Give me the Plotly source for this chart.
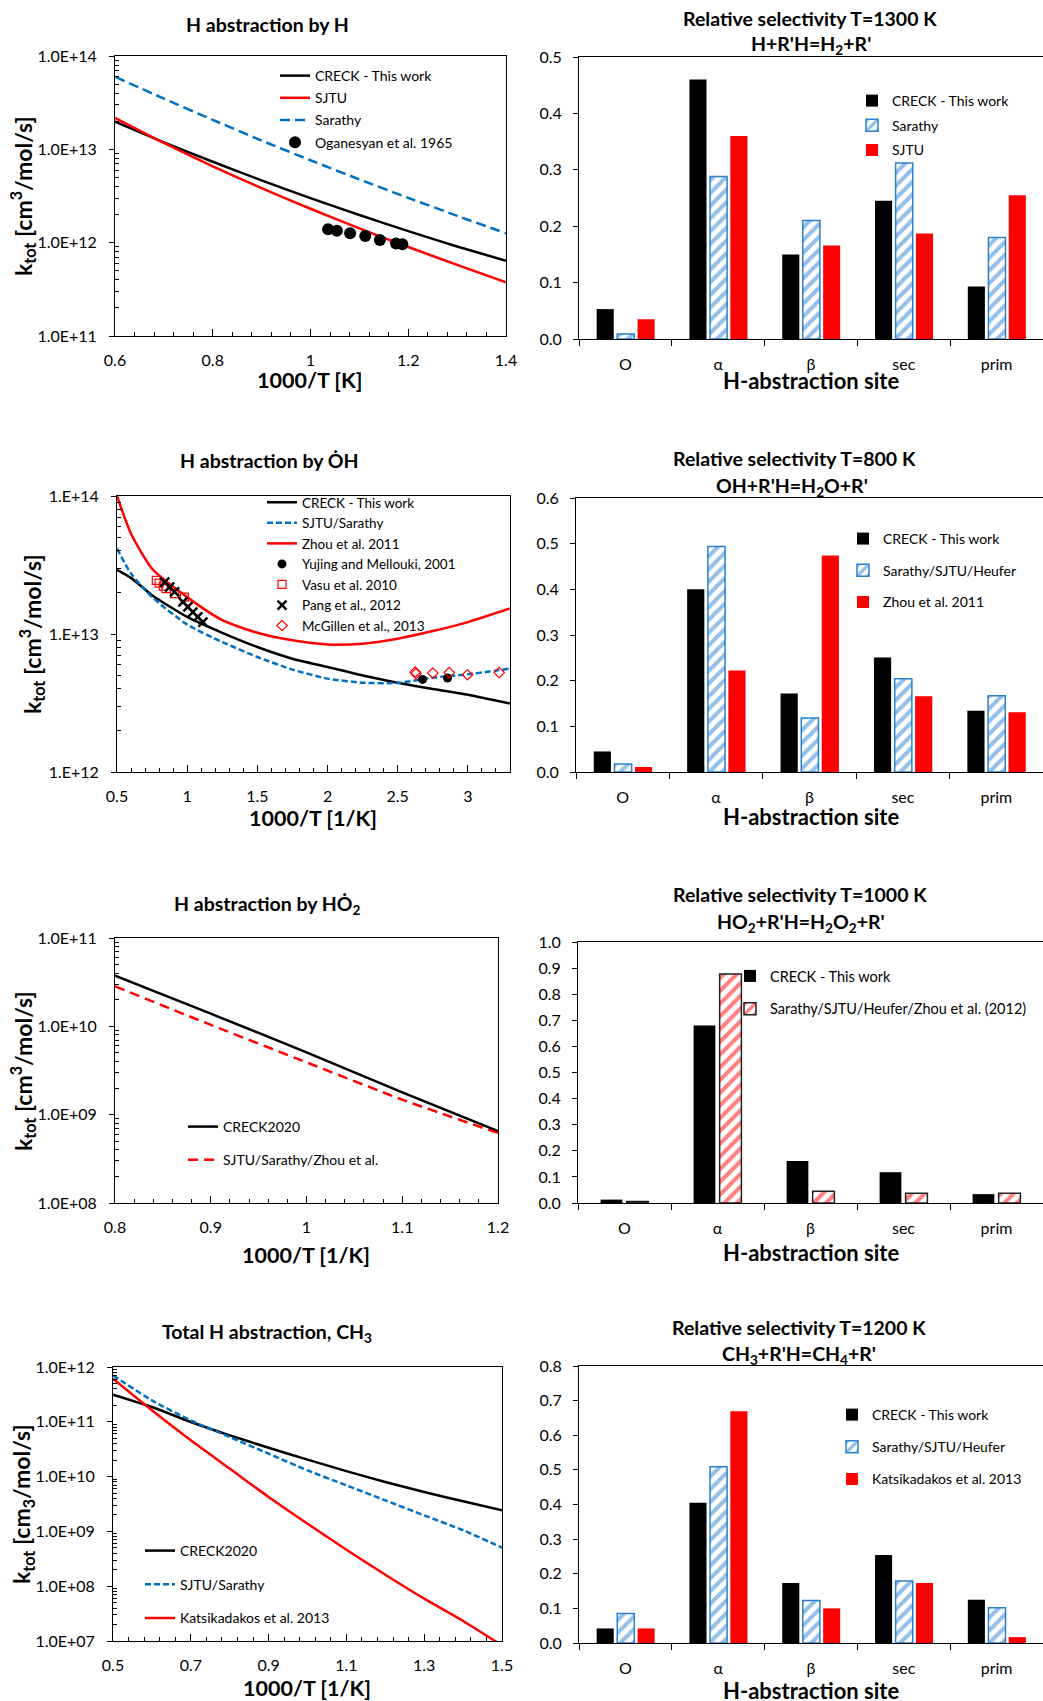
import plotly.graph_objects as go

FONT = "Lato"
W, H = 1043, 1701
BLUE_LINE = "#0070C0"
BLUE_HATCH = "#2A80D0"
RED = "#FF0000"

# ---------------- Panel 1 : H abstraction by H ----------------
p1_x = [0.6, 0.7, 0.8, 0.9, 1.0, 1.1, 1.2, 1.3, 1.4]
p1_creck = [1.98e13, 1.19e13, 7.36e12, 4.65e12, 3.0e12, 1.98e12, 1.33e12, 9.1e11, 6.4e11]
p1_sjtu = [2.18e13, 1.17e13, 6.58e12, 3.83e12, 2.31e12, 1.42e12, 8.98e11, 5.79e11, 3.76e11]
p1_sarathy = [6.0e13, 3.49e13, 2.07e13, 1.24e13, 7.64e12, 4.76e12, 3.02e12, 1.94e12, 1.26e12]
p1_oga_x = [1.036, 1.054, 1.081, 1.112, 1.142, 1.175, 1.188]
p1_oga_k = [1.39e12, 1.34e12, 1.26e12, 1.18e12, 1.07e12, 0.98e12, 0.96e12]

# ---------------- Panel 3 : H abstraction by OH ----------------
p3_x = [0.5, 0.6, 0.75, 1.0, 1.25, 1.5, 1.75, 2.0, 2.25, 2.5, 2.75, 3.0, 3.3]
p3_creck = [2.92e13, 2.55e13, 1.91e13, 1.33e13, 1.02e13, 8.05e12, 6.62e12, 5.77e12, 5.01e12, 4.44e12, 3.99e12, 3.63e12, 3.13e12]
p3_sjtu = [4.15e13, 2.74e13, 1.85e13, 1.17e13, 8.75e12, 6.81e12, 5.52e12, 4.75e12, 4.44e12, 4.42e12, 4.83e12, 5.1e12, 5.61e12]
p3_zhou = [1.0e14, 5.33e13, 2.97e13, 1.85e13, 1.26e13, 1.02e13, 9.0e12, 8.41e12, 8.51e12, 9.25e12, 1.05e13, 1.22e13, 1.53e13]
p3_yujing_x = [2.677, 2.855]
p3_yujing_k = [4.69e12, 4.8e12]
p3_vasu_x = [0.78, 0.80, 0.83, 0.85, 0.91, 0.98]
p3_vasu_k = [2.45e13, 2.34e13, 2.22e13, 2.13e13, 1.96e13, 1.85e13]
p3_pang_x = [0.84, 0.875, 0.91, 0.97, 1.005, 1.04, 1.076, 1.112]
p3_pang_k = [2.38e13, 2.19e13, 2.02e13, 1.71e13, 1.57e13, 1.44e13, 1.33e13, 1.22e13]
p3_mcg_x = [2.625, 2.63, 2.75, 2.867, 2.997, 3.223]
p3_mcg_k = [5.3e12, 5.16e12, 5.21e12, 5.25e12, 5.07e12, 5.25e12]

# ---------------- Panel 5 : H abstraction by HO2 ----------------
p5_x = [0.8, 0.9, 1.0, 1.1, 1.2]
p5_creck = [3.75e10, 1.39e10, 5.08e9, 1.79e9, 6.5e8]
p5_sjtu = [2.84e10, 1.04e10, 3.91e9, 1.48e9, 6.2e8]

# ---------------- Panel 7 : Total H abstraction, CH3 ----------------
p7_x = [0.5, 0.6, 0.7, 0.8, 0.9, 1.0, 1.1, 1.2, 1.3, 1.4, 1.5]
p7_creck = [3.13e11, 1.86e11, 9.9e10, 5.66e10, 3.37e10, 2.04e10, 1.26e10, 7.97e9, 5.23e9, 3.54e9, 2.42e9]
p7_sjtu = [7.05e11, 2.46e11, 1.06e11, 5.28e10, 2.62e10, 1.3e10, 6.93e9, 3.69e9, 1.96e9, 1.05e9, 5.05e8]
p7_kats = [6.12e11, 1.62e11, 4.59e10, 1.4e10, 4.24e9, 1.38e9, 4.64e8, 1.62e8, 5.92e7, 2.32e7, 8.3e6]

# ---------------- Bar panels ----------------
CATS = ["O", "α", "β", "sec", "prim"]
p2_creck = [0.053, 0.46, 0.150, 0.245, 0.093]
p2_sarathy = [0.009, 0.288, 0.210, 0.312, 0.180]
p2_sjtu = [0.035, 0.36, 0.166, 0.187, 0.255]
p4_creck = [0.045, 0.40, 0.172, 0.251, 0.134]
p4_sarathy = [0.0175, 0.494, 0.118, 0.204, 0.167]
p4_zhou = [0.011, 0.222, 0.474, 0.166, 0.131]
p6_creck = [0.013, 0.68, 0.161, 0.118, 0.034]
p6_others = [0.006, 0.877, 0.045, 0.037, 0.037]
p8_creck = [0.042, 0.405, 0.173, 0.254, 0.125]
p8_sarathy = [0.085, 0.509, 0.123, 0.179, 0.102]
p8_kats = [0.042, 0.669, 0.100, 0.173, 0.017]


def xd(a, b):
    return [a / W, b / W]


def yd(top, bot):
    return [1 - bot / H, 1 - top / H]


fig = go.Figure()


def line(x, y, name, color, ax, leg, grp, dash="solid", width=2.5):
    fig.add_trace(go.Scatter(x=x, y=y, name=name, mode="lines",
                             line=dict(color=color, width=width, dash=dash, shape="spline", smoothing=0.6),
                             xaxis="x" + ax, yaxis="y" + ax, legend=leg, legendgroup=grp))


def pts(x, y, name, symbol, color, size, ax, leg, grp, lw=0):
    fig.add_trace(go.Scatter(x=x, y=y, name=name, mode="markers",
                             marker=dict(symbol=symbol, color=color, size=size, line=dict(color=color, width=lw)),
                             xaxis="x" + ax, yaxis="y" + ax, legend=leg, legendgroup=grp))


def solid_bar(y, name, color, ax, leg, grp, off, wid):
    fig.add_trace(go.Bar(x=CATS, y=y, name=name, marker=dict(color=color, line=dict(width=0)), offset=off, width=wid,
                         xaxis="x" + ax, yaxis="y" + ax, legend=leg, legendgroup=grp))


def hatch_bar(y, name, color, edge, ax, leg, grp, off, wid):
    fig.add_trace(go.Bar(x=CATS, y=y, name=name,
                         marker=dict(color="white", line=dict(color=edge, width=1.5),
                                     pattern=dict(shape="/", fgcolor=color, bgcolor="white", size=9, solidity=0.45)),
                         offset=off, width=wid, xaxis="x" + ax, yaxis="y" + ax, legend=leg, legendgroup=grp))


# Panel 1
line(p1_x, p1_creck, "CRECK - This work", "black", "", "legend", "a")
line(p1_x, p1_sjtu, "SJTU", RED, "", "legend", "b")
line(p1_x, p1_sarathy, "Sarathy", BLUE_LINE, "", "legend", "c", dash="10px,5px")
pts(p1_oga_x, p1_oga_k, "Oganesyan et al. 1965", "circle", "black", 12, "", "legend", "d")

# Panel 3
line(p3_x, p3_creck, "CRECK - This work", "black", "3", "legend3", "a")
line(p3_x, p3_sjtu, "SJTU/Sarathy", BLUE_LINE, "3", "legend3", "b", dash="6px,3px")
line(p3_x, p3_zhou, "Zhou et al. 2011", RED, "3", "legend3", "c")
pts(p3_yujing_x, p3_yujing_k, "Yujing and Mellouki, 2001", "circle", "black", 9, "3", "legend3", "d")
pts(p3_vasu_x, p3_vasu_k, "Vasu et al. 2010", "square-open", RED, 8, "3", "legend3", "e", lw=1.2)
pts(p3_pang_x, p3_pang_k, "Pang et al., 2012", "x-thin", "black", 9, "3", "legend3", "f", lw=2.5)
pts(p3_mcg_x, p3_mcg_k, "McGillen et al., 2013", "diamond-open", RED, 8, "3", "legend3", "g", lw=1.2)

# Panel 5
line(p5_x, p5_creck, "CRECK2020", "black", "5", "legend5", "a")
line(p5_x, p5_sjtu, "SJTU/Sarathy/Zhou et al.", RED, "5", "legend5", "b", dash="10px,6px")

# Panel 7
line(p7_x, p7_creck, "CRECK2020", "black", "7", "legend7", "a")
line(p7_x, p7_sjtu, "SJTU/Sarathy", BLUE_LINE, "7", "legend7", "b", dash="6px,3px")
line(p7_x, p7_kats, "Katsikadakos et al. 2013", RED, "7", "legend7", "c")

# Bars
OFF3 = [-0.31, -0.088, 0.131]
W3 = 0.184
solid_bar(p2_creck, "CRECK - This work", "black", "2", "legend2", "a", OFF3[0], W3)
hatch_bar(p2_sarathy, "Sarathy", BLUE_HATCH, BLUE_HATCH, "2", "legend2", "b", OFF3[1], W3)
solid_bar(p2_sjtu, "SJTU", RED, "2", "legend2", "c", OFF3[2], W3)

solid_bar(p4_creck, "CRECK - This work", "black", "4", "legend4", "a", OFF3[0], W3)
hatch_bar(p4_sarathy, "Sarathy/SJTU/Heufer", BLUE_HATCH, BLUE_HATCH, "4", "legend4", "b", OFF3[1], W3)
solid_bar(p4_zhou, "Zhou et al. 2011", RED, "4", "legend4", "c", OFF3[2], W3)

solid_bar(p6_creck, "CRECK - This work", "black", "6", "legend6", "a", -0.257, 0.234)
hatch_bar(p6_others, "Sarathy/SJTU/Heufer/Zhou et al. (2012)", RED, "#222222", "6", "legend6", "b", 0.023, 0.234)

solid_bar(p8_creck, "CRECK - This work", "black", "8", "legend8", "a", OFF3[0], W3)
hatch_bar(p8_sarathy, "Sarathy/SJTU/Heufer", BLUE_HATCH, BLUE_HATCH, "8", "legend8", "b", OFF3[1], W3)
solid_bar(p8_kats, "Katsikadakos et al. 2013", RED, "8", "legend8", "c", OFF3[2], W3)

TICKFONT = dict(family=FONT, size=16, color="black")


def lin_x(dom, anchor, rng, dtick, tick0, minor_dtick):
    return dict(domain=dom, anchor=anchor, range=rng, tickmode="linear", tick0=tick0, dtick=dtick,
                ticks="inside", ticklen=7, tickcolor="black", tickwidth=1, automargin=False,
                showline=True, linecolor="black", linewidth=1, mirror=True,
                showgrid=False, zeroline=False, tickfont=TICKFONT, ticklabelstandoff=10,
                minor=dict(ticks="inside", ticklen=4, dtick=minor_dtick, tick0=tick0, tickcolor="black", showgrid=False))


def log_y(dom, anchor, lo, hi, fmt):
    vals = [10.0 ** e for e in range(lo, hi + 1)]
    text = [fmt.format(e) for e in range(lo, hi + 1)]
    mvals = [k * 10.0 ** e for e in range(lo, hi) for k in range(2, 10)]
    return dict(domain=dom, anchor=anchor, type="log", range=[lo, hi], tickmode="array", tickvals=vals, ticktext=text,
                ticks="outside", ticklen=5, tickcolor="black", showline=True, linecolor="black", linewidth=1, mirror=True,
                showgrid=False, zeroline=False, tickfont=TICKFONT, ticklabelstandoff=9, automargin=False,
                minor=dict(tickmode="array", tickvals=mvals, ticks="inside", ticklen=4, tickcolor="black", showgrid=False))


def cat_x(dom, anchor):
    return dict(domain=dom, anchor=anchor, type="category", range=[-0.5, 4.5], tickson="boundaries",
                ticks="outside", ticklen=6, tickcolor="black", showline=True, linecolor="black", linewidth=1,
                mirror=True, showgrid=False, zeroline=False, tickfont=TICKFONT, ticklabelstandoff=11,
                automargin=False)


def bar_y(dom, anchor, top):
    return dict(domain=dom, anchor=anchor, range=[0, top], tickmode="linear", tick0=0, dtick=0.1, tickformat=".1f",
                ticks="outside", ticklen=5, tickcolor="black", showline=True, linecolor="black", linewidth=1,
                showgrid=False, zeroline=False, tickfont=TICKFONT, ticklabelstandoff=8, automargin=False)


def leg(x_px, y_px, gap, size=14):
    return dict(x=x_px / W, y=1 - y_px / H, xanchor="left", yanchor="top", bgcolor="rgba(0,0,0,0)",
                font=dict(family=FONT, size=size, color="black"), tracegroupgap=gap, borderwidth=0,
                traceorder="grouped")


annotations = []


def ann(text, x_px, y_px, size, angle=0):
    annotations.append(dict(text=text, x=x_px / W, y=1 - y_px / H, xref="paper", yref="paper", showarrow=False,
                            xanchor="center", yanchor="middle", textangle=angle,
                            font=dict(family=FONT, size=size, color="black")))


TS = 19.5
# Titles
ann("<b>H abstraction by H</b>", 267, 25, TS)
ann("<b>Relative selectivity T=1300 K</b>", 810, 18, TS)
ann("<b>H+R'H=H<sub>2</sub>+R'</b>", 811, 45, TS)
ann("<b>H abstraction by ȮH</b>", 269, 460, TS)
ann("<b>Relative selectivity T=800 K</b>", 794, 459, TS)
ann("<b>OH+R'H=H<sub>2</sub>O+R'</b>", 792, 487, TS)
ann("<b>H abstraction by HȮ<sub>2</sub></b>", 267, 905, TS)
ann("<b>Relative selectivity T=1000 K</b>", 800, 895, TS)
ann("<b>HO<sub>2</sub>+R'H=H<sub>2</sub>O<sub>2</sub>+R'</b>", 801, 923, TS)
ann("<b>Total H abstraction, CH<sub>3</sub></b>", 267, 1333, TS)
ann("<b>Relative selectivity T=1200 K</b>", 799, 1327, TS)
ann("<b>CH<sub>3</sub>+R'H=CH<sub>4</sub>+R'</b>", 799, 1355, TS)

# Axis titles
AS = 21.5
ann("<b>1000/T [K]</b>", 310, 380, AS)
ann("<b>1000/T [1/K]</b>", 313, 818, AS)
ann("<b>1000/T [1/K]</b>", 306, 1255, AS)
ann("<b>1000/T [1/K]</b>", 307, 1688, AS)
for yy in (380, 817, 1252, 1690):
    ann("<b>H-abstraction site</b>", 811, yy, 22)
YS = 23
ann("<b>k<sub>tot</sub> [cm<sup>3</sup>/mol/s]</b>", 22, 196, YS, -90)
ann("<b>k<sub>tot</sub> [cm<sup>3</sup>/mol/s]</b>", 31, 634, YS, -90)
ann("<b>k<sub>tot</sub> [cm<sup>3</sup>/mol/s]</b>", 22, 1071, YS, -90)
ann("<b>k<sub>tot</sub> [cm<sub>3</sub>/mol/s]</b>", 22, 1504, YS, -90)

fig.update_layout(
    width=W, height=H, autosize=False,
    margin=dict(l=0, r=0, t=0, b=0, pad=0, autoexpand=False),
    paper_bgcolor="white", plot_bgcolor="white",
    font=dict(family=FONT, size=15, color="black"), barmode="overlay", showlegend=True,
    xaxis=lin_x(xd(115, 506), "y", [0.6, 1.4], 0.2, 0.6, 0.04),
    yaxis=log_y(yd(56, 336), "x", 11, 14, "1.0E+{:02d}"),
    xaxis2=cat_x(xd(579, 1043), "y2"),
    yaxis2=bar_y(yd(57, 339), "x2", 0.5),
    xaxis3=lin_x(xd(117, 510), "y3", [0.5, 3.3], 0.5, 0.5, 0.1),
    yaxis3=log_y(yd(496, 772), "x3", 12, 14, "1.E+{:02d}"),
    xaxis4=cat_x(xd(576, 1043), "y4"),
    yaxis4=bar_y(yd(498, 772), "x4", 0.6),
    xaxis5=lin_x(xd(115, 498), "y5", [0.8, 1.2], 0.1, 0.8, 0.02),
    yaxis5=log_y(yd(938, 1203), "x5", 8, 11, "1.0E+{:02d}"),
    xaxis6=cat_x(xd(578, 1043), "y6"),
    yaxis6=bar_y(yd(942, 1203), "x6", 1.0),
    xaxis7=lin_x(xd(113, 502), "y7", [0.5, 1.5], 0.2, 0.5, 0.04),
    yaxis7=log_y(yd(1367, 1641), "x7", 7, 12, "1.0E+{:02d}"),
    xaxis8=cat_x(xd(579, 1043), "y8"),
    yaxis8=bar_y(yd(1366, 1643), "x8", 0.8),
    legend=leg(275, 60, 1),
    legend2=leg(852, 85, 3.5),
    legend3=leg(262, 487, 0, 13.5),
    legend4=leg(843, 523, 10.5),
    legend5=leg(183, 1111, 12),
    legend6=leg(730, 960, 11, 14.5),
    legend7=leg(140, 1535, 12.5),
    legend8=leg(832, 1399, 11),
    annotations=annotations,
)

fig.write_html(
    "out.html",
    config={"displayModeBar": False},
    post_script="document.body.style.margin='0px';document.body.style.padding='0px';"
                "document.body.style.overflow='hidden';",
)
